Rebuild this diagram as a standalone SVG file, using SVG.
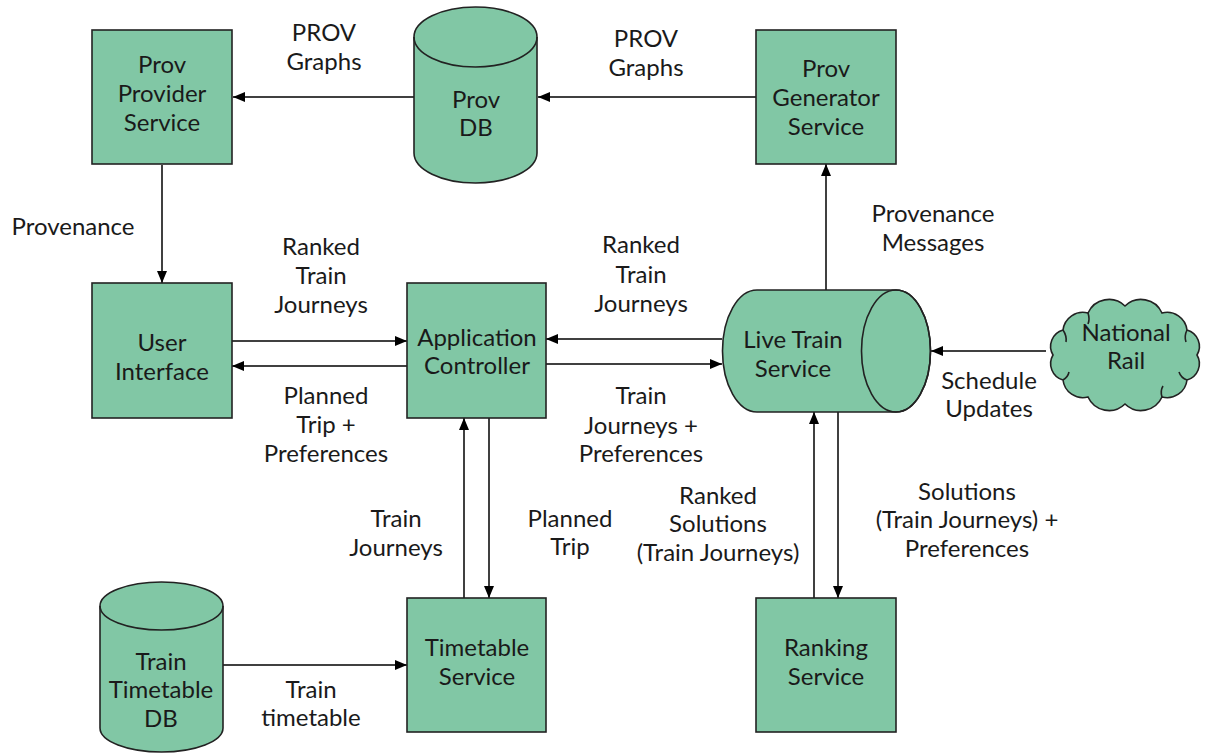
<svg xmlns="http://www.w3.org/2000/svg" width="1208" height="755" viewBox="0 0 1208 755">
<defs>
<marker id="arr" markerWidth="12" markerHeight="10" refX="12" refY="5" orient="auto" markerUnits="userSpaceOnUse"><path d="M0,0 L12,5 L0,10 Z" fill="#000"/></marker>
<style>
.n{fill:#81c7a5;stroke:#222;stroke-width:1.6}
.o{fill:none;stroke:#222;stroke-width:1.6}
.c{fill:none;stroke:#000;stroke-width:1.5;marker-end:url(#arr)}
text{font-family:Lato,"Open Sans","Liberation Sans",sans-serif;font-size:24px;fill:#1a1a1a;text-anchor:middle}
</style>
</defs>
<rect width="1208" height="755" fill="#fff"/>
<g id="connectors">
<path class="c" d="M414,97 L233,97"/>
<path class="c" d="M756,97 L538,97"/>
<path class="c" d="M162,165 L162,283"/>
<path class="c" d="M232,341 L407,341"/>
<path class="c" d="M407,366 L232,366"/>
<path class="c" d="M722,339 L546,339"/>
<path class="c" d="M546,364 L722,364"/>
<path class="c" d="M826,290 L826,164"/>
<path class="c" d="M1046,351 L931,351"/>
<path class="c" d="M464,598 L464,418"/>
<path class="c" d="M489,418 L489,598"/>
<path class="c" d="M223,665 L407,665"/>
<path class="c" d="M814,598 L814,412"/>
<path class="c" d="M838,412 L838,598"/>
</g>
<g id="labels">
<text x="324" y="41">PROV</text><text x="324" y="70">Graphs</text>
<text x="646" y="47">PROV</text><text x="646" y="76">Graphs</text>
<text x="73" y="235">Provenance</text>
<text x="321" y="255">Ranked</text><text x="321" y="284">Train</text><text x="321" y="313">Journeys</text>
<text x="326" y="404">Planned</text><text x="326" y="433">Trip +</text><text x="326" y="462">Preferences</text>
<text x="641" y="253">Ranked</text><text x="641" y="283">Train</text><text x="641" y="312">Journeys</text>
<text x="641" y="404">Train</text><text x="641" y="434">Journeys +</text><text x="641" y="462">Preferences</text>
<text x="933" y="222">Provenance</text><text x="933" y="251">Messages</text>
<text x="989" y="389">Schedule</text><text x="989" y="417">Updates</text>
<text x="396" y="527">Train</text><text x="396" y="556">Journeys</text>
<text x="570" y="527">Planned</text><text x="570" y="555">Trip</text>
<text x="718" y="504">Ranked</text><text x="718" y="532">Solutions</text><text x="718" y="561">(Train Journeys)</text>
<text x="967" y="500">Solutions</text><text x="967" y="528">(Train Journeys) +</text><text x="967" y="557">Preferences</text>
<text x="311" y="698">Train</text><text x="311" y="726">timetable</text>
</g>
<g id="prov-provider">
<rect class="n" x="92" y="30" width="140" height="134"/>
<text x="162" y="73">Prov</text><text x="162" y="102">Provider</text><text x="162" y="131">Service</text>
</g>
<g id="prov-db">
<path class="n" d="M414,37 A61.5,30 0 0 1 537,37 L537,153 A61.5,30 0 0 1 414,153 Z"/>
<path class="o" d="M414,37 A61.5,30 0 0 0 537,37"/>
<text x="476" y="108">Prov</text><text x="476" y="136">DB</text>
</g>
<g id="prov-generator">
<rect class="n" x="756" y="30" width="140" height="134"/>
<text x="826" y="77">Prov</text><text x="826" y="106">Generator</text><text x="826" y="135">Service</text>
</g>
<g id="user-interface">
<rect class="n" x="92" y="283" width="140" height="135"/>
<text x="162" y="351">User</text><text x="162" y="380">Interface</text>
</g>
<g id="app-controller">
<rect class="n" x="407" y="283" width="139" height="135"/>
<text x="477" y="346">Application</text><text x="477" y="374">Controller</text>
</g>
<g id="live-train">
<path class="n" d="M757,290 L896,290 A34.5,61 0 0 1 896,412 L757,412 A34.5,61 0 0 1 757,290 Z"/>
<ellipse class="o" cx="896" cy="351" rx="34.5" ry="61"/>
<text x="793" y="348">Live Train</text><text x="793" y="377">Service</text>
</g>
<g id="national-rail">
<path class="n" d="M1197,355 A17,17 0 0 1 1187,380 A20,20 0 0 1 1162,397 A23,23 0 0 1 1125,404 A23,23 0 0 1 1088,397 A20,20 0 0 1 1063,380 A17,17 0 0 1 1053,355 A17,17 0 0 1 1063,330 A20,20 0 0 1 1088,313 A23,23 0 0 1 1125,306 A23,23 0 0 1 1162,313 A20,20 0 0 1 1187,330 A17,17 0 0 1 1197,355 Z"/>
<path class="o" d="M1063,330 q4,6 3,12 M1088,313 q2,6 0,11 M1187,330 q-3,6 -1,12 M1162,397 q-2,-6 1,-11 M1187,380 q-6,-2 -8,-8 M1063,380 q5,-3 6,-8"/>
<text x="1126" y="341">National</text><text x="1126" y="369">Rail</text>
</g>
<g id="timetable-service">
<rect class="n" x="407" y="598" width="139" height="134"/>
<text x="477" y="656">Timetable</text><text x="477" y="685">Service</text>
</g>
<g id="ranking-service">
<rect class="n" x="756" y="598" width="140" height="134"/>
<text x="826" y="656">Ranking</text><text x="826" y="685">Service</text>
</g>
<g id="train-timetable-db">
<path class="n" d="M100,606 A61.5,24 0 0 1 223,606 L223,728 A61.5,24 0 0 1 100,728 Z"/>
<path class="o" d="M100,606 A61.5,24 0 0 0 223,606"/>
<text x="161" y="670">Train</text><text x="161" y="698">Timetable</text><text x="161" y="727">DB</text>
</g>
</svg>
